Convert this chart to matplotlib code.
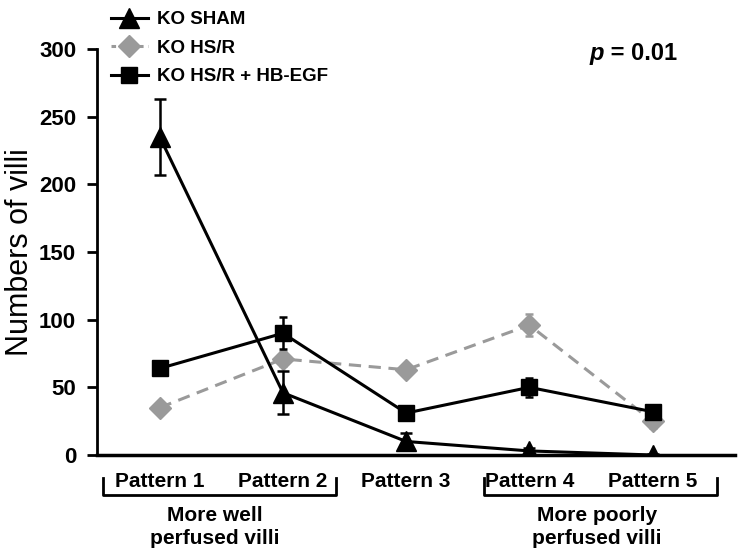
import matplotlib.pyplot as plt
from matplotlib.lines import Line2D
import numpy as np

plt.rcParams['font.family'] = ['Liberation Sans', 'DejaVu Sans']

patterns = ['Pattern 1', 'Pattern 2', 'Pattern 3', 'Pattern 4', 'Pattern 5']
sham = [235, 46, 10, 3, 0]
sham_err = [28, 16, 6, 2, 1]
hsr = [35, 71, 63, 96, 25]
hsr_err = [3, 5, 4, 8, 5]
egf = [64, 90, 31, 50, 32]
egf_err = [3, 12, 5, 7, 4]

x = np.arange(len(patterns))
gray = '#9a9a9a'

fig = plt.figure(figsize=(7.38, 5.58), dpi=100)
ax = fig.add_axes([0.1314, 0.1846, 0.8646, 0.7274])

ax.errorbar(x, hsr, yerr=hsr_err, color=gray, ls='--', lw=2.2, dashes=(4, 2.5),
            marker='D', ms=11, capsize=3, elinewidth=1.8, capthick=1.8, zorder=2)
ax.errorbar(x, egf, yerr=egf_err, color='black', lw=2.2, marker='s', ms=11,
            capsize=3, elinewidth=1.8, capthick=1.8, zorder=3)
ax.errorbar(x, sham, yerr=sham_err, color='black', lw=2.2, marker='^', ms=14,
            capsize=4, elinewidth=1.8, capthick=1.8, zorder=4)

ax.set_xlim(-0.51, 4.67)
ax.set_ylim(0, 300)
ax.set_yticks(range(0, 301, 50))
ax.set_xticks([])
for s in ['top', 'right']:
    ax.spines[s].set_visible(False)
ax.spines['left'].set_linewidth(2)
ax.spines['bottom'].set_linewidth(2.5)
ax.tick_params(axis='y', length=7, width=2, labelsize=16, pad=8)
for t in ax.get_yticklabels():
    t.set_fontweight('bold')
ax.set_ylabel('Numbers of villi', fontsize=22, labelpad=3)

# pattern labels and group brackets below the axis
tr = ax.get_xaxis_transform()
for xi, name in zip(x, patterns):
    ax.text(xi, -0.066, name, transform=tr, ha='center', va='center',
            fontsize=15, fontweight='bold')
for x0, x1 in [(-0.46, 1.43), (2.63, 4.52)]:
    ax.plot([x0, x0, x1, x1], [-0.057, -0.099, -0.099, -0.057], color='black',
            lw=2, transform=tr, clip_on=False)
ax.text(0.45, -0.177, 'More well\nperfused villi', transform=tr, ha='center',
        va='center', fontsize=15, fontweight='bold', linespacing=1.25)
ax.text(3.55, -0.177, 'More poorly\nperfused villi', transform=tr, ha='center',
        va='center', fontsize=15, fontweight='bold', linespacing=1.25)

ax.text(0.772, 0.99, 'p', transform=ax.transAxes, ha='left', va='center',
        fontsize=17, fontweight='bold', fontstyle='italic')
ax.text(0.795, 0.99, ' = 0.01', transform=ax.transAxes, ha='left', va='center',
        fontsize=17, fontweight='bold')

handles = [
    Line2D([], [], color='black', lw=2.2, marker='^', ms=14),
    Line2D([], [], color=gray, lw=2.2, ls='--', dashes=(1.5, 1.5), marker='D', ms=11),
    Line2D([], [], color='black', lw=2.2, marker='s', ms=11),
]
labels = ['KO SHAM', 'KO HS/R', 'KO HS/R + HB-EGF']
fig.legend(handles, labels, loc='upper left', bbox_to_anchor=(0.127, 1.01),
           frameon=False, prop={'weight': 'bold', 'size': 13.5}, handlelength=2.0,
           handletextpad=0.5, labelspacing=0.6)

fig.savefig('out.png', dpi=100)
